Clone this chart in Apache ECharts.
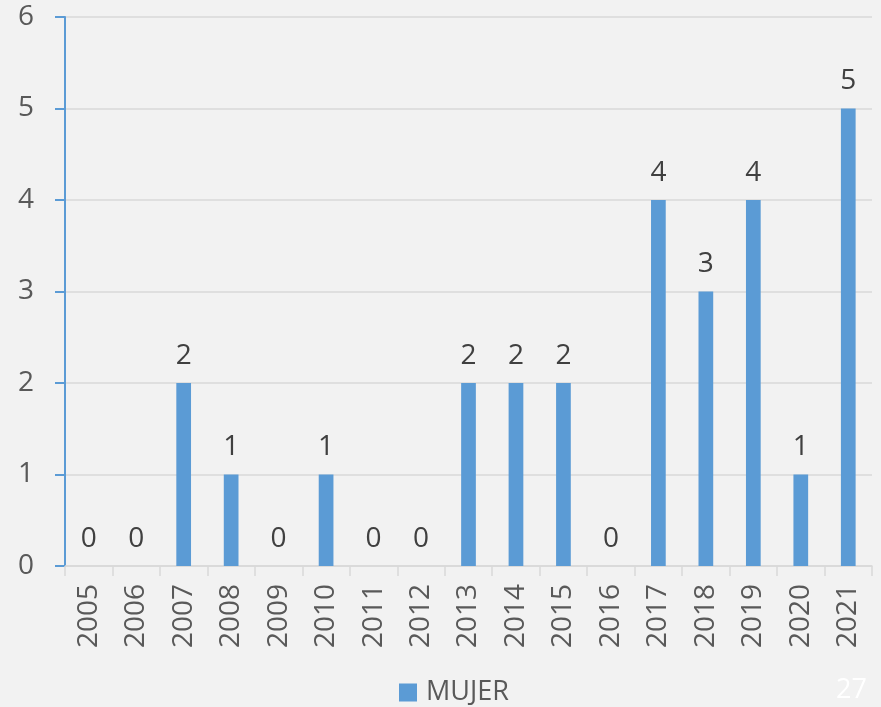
<!DOCTYPE html>
<html>
<head>
<meta charset="utf-8">
<script src="https://cdn.jsdelivr.net/npm/echarts@6/dist/echarts.min.js"></script>
<style>
  html, body { margin: 0; padding: 0; background: #f2f2f2; }
  #chart { width: 881px; height: 707px; }
</style>
</head>
<body>
<div id="chart"></div>
<script>
// data
var years = ['2005', '2006', '2007', '2008', '2009', '2010', '2011', '2012', '2013',
             '2014', '2015', '2016', '2017', '2018', '2019', '2020', '2021'];
var mujer = [0, 0, 2, 1, 0, 1, 0, 0, 2, 2, 2, 0, 4, 3, 4, 1, 5];
var seriesName = 'MUJER';
var pageNumber = '27';

var fontFamily = '"Open Sans", "Noto Sans", sans-serif';
var chart = echarts.init(document.getElementById('chart'), null, { renderer: 'canvas' });

var option = {
  backgroundColor: '#f2f2f2',
  animation: false,
  grid: {
    left: 65,
    right: 9,
    top: 17,
    bottom: 141
  },
  legend: {
    top: 674,
    left: 394,
    itemWidth: 18,
    itemHeight: 18,
    icon: 'rect',
    textStyle: {
      fontFamily: fontFamily,
      fontSize: 27,
      color: '#595959',
      padding: [0, 0, 0, 4]
    },
    data: [seriesName]
  },
  xAxis: {
    type: 'category',
    data: years,
    axisLine: { lineStyle: { color: '#d9d9d9', width: 1.5 } },
    axisTick: { show: true, length: 10, lineStyle: { color: '#d9d9d9', width: 1.5 } },
    axisLabel: {
      rotate: 90,
      margin: 18,
      fontFamily: fontFamily,
      fontSize: 28,
      color: '#595959'
    }
  },
  yAxis: {
    type: 'value',
    min: 0,
    max: 6,
    interval: 1,
    axisLine: { show: true, lineStyle: { color: '#5b9bd5', width: 2 } },
    axisTick: { show: true, length: 10, lineStyle: { color: '#5b9bd5', width: 2 } },
    splitLine: { lineStyle: { color: '#d9d9d9', width: 1.5 } },
    axisLabel: {
      margin: 31,
      fontFamily: fontFamily,
      fontSize: 28,
      color: '#595959'
    }
  },
  series: [
    {
      name: seriesName,
      type: 'bar',
      data: mujer,
      barWidth: '31%',
      itemStyle: { color: '#5b9bd5' },
      label: {
        show: true,
        position: 'top',
        distance: 13,
        fontFamily: fontFamily,
        fontSize: 28,
        color: '#404040'
      }
    }
  ],
  graphic: [
    {
      type: 'text',
      right: 14,
      bottom: 3,
      style: {
        text: pageNumber,
        fontFamily: fontFamily,
        fontSize: 27,
        fill: '#ffffff'
      }
    }
  ]
};

chart.setOption(option);
</script>
</body>
</html>
